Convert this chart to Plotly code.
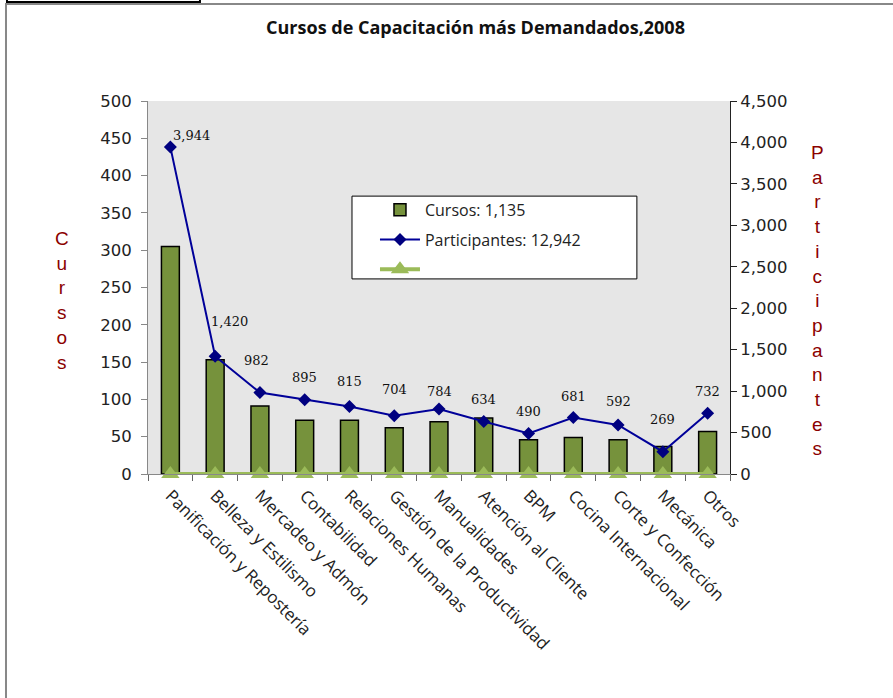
import plotly.graph_objects as go

categorias = ["Panificación y Repostería", "Belleza y Estilismo", "Mercadeo y Admón",
              "Contabilidad", "Relaciones Humanas", "Gestión de la Productividad",
              "Manualidades", "Atención al Cliente", "BPM", "Cocina Internacional",
              "Corte y Confección", "Mecánica", "Otros"]
cursos = [305, 153, 91, 72, 72, 62, 70, 75, 46, 49, 46, 37, 57]
participantes = [3944, 1420, 982, 895, 815, 704, 784, 634, 490, 681, 592, 269, 732]
base = [0] * len(categorias)

total_cursos = 1135
total_part = 12942

# label offsets in px (style only)
lbl_dy = [12, 35, 32, 22, 25, 26, 18, 22, 22, 21, 23, 32, 22]
lbl_dx = [21, 14, -3, 0, 0, 0, 0, 0, 0, 0, 0, 0, 0]

lbl_font = dict(family="DejaVu Serif, Liberation Serif, serif", size=13, color="#111")
tick_font = dict(family="DejaVu Sans, Verdana, sans-serif", size=16.5, color="#222")
cat_font = dict(family="Open Sans, Lato, sans-serif", size=17, color="#222")

fig = go.Figure()
fig.add_trace(go.Bar(x=categorias, y=cursos, name=f"Cursos: {total_cursos:,}",
                     marker=dict(color="#76923C", line=dict(color="#000", width=1.5)),
                     width=0.4, yaxis="y", legendgroup="a"))
fig.add_trace(go.Scatter(x=categorias, y=participantes, name=f"Participantes: {total_part:,}",
                         mode="lines+markers", line=dict(color="#000099", width=2),
                         marker=dict(symbol="diamond", size=10, color="#000080"),
                         yaxis="y2", legendgroup="b"))
fig.add_trace(go.Scatter(x=categorias, y=base, name=" ", mode="lines+markers",
                         line=dict(color="#9BBB59", width=4),
                         marker=dict(symbol="triangle-up", size=16, color="#9BBB59"),
                         yaxis="y2", cliponaxis=False, legendgroup="c"))

for c, v, dy, dx in zip(categorias, participantes, lbl_dy, lbl_dx):
    fig.add_annotation(x=c, y=v, yref="y2", text=f"{v:,}", showarrow=False,
                       yshift=dy, xshift=dx, font=lbl_font)

fig.update_layout(
    width=893, height=698,
    margin=dict(l=148, r=163, t=101, b=224),
    paper_bgcolor="white", plot_bgcolor="#e6e6e6",
    title=dict(text="<b>Cursos de Capacitación más Demandados,2008</b>",
               x=0.5325, xanchor="center", y=0.96, yanchor="middle",
               font=dict(family="Open Sans, Lato, sans-serif", size=18, color="#111")),
    showlegend=True,
    legend=dict(x=0.39, y=0.754, xanchor="left", yanchor="top",
                bgcolor="rgba(0,0,0,0)", borderwidth=0,
                font=dict(family="Open Sans, Lato, sans-serif", size=16, color="#222"),
                tracegroupgap=6, itemwidth=40, traceorder="grouped"),
    xaxis=dict(tickangle=45, tickfont=cat_font, showline=True, linecolor="#888",
               range=[-0.5, 12.5], ticklabelstandoff=4,
               ticks="outside", tickson="boundaries", ticklen=6, tickcolor="#666",
               showgrid=False),
    yaxis=dict(range=[0, 500], dtick=50, tickfont=tick_font, showgrid=False,
               showline=True, linecolor="#888", ticks="outside", ticklen=6,
               tickcolor="#888", zeroline=False, ticklabelstandoff=6),
    yaxis2=dict(range=[0, 4500], dtick=500, tickformat=",", overlaying="y", side="right",
                tickfont=tick_font, showgrid=False, showline=True, linecolor="#222",
                ticks="outside", ticklen=6, tickcolor="#222", zeroline=False),
)

# legend frame
fig.add_shape(type="rect", xref="paper", yref="paper", x0=0.3505, x1=0.840, y0=0.523, y1=0.745,
              line=dict(color="#000", width=1), fillcolor="white", layer="above")

# vertical axis titles
fig.add_annotation(xref="paper", yref="paper", x=-0.148, y=0.466, xanchor="center",
                   yanchor="middle", showarrow=False, text="<br>".join("Cursos"),
                   font=dict(family="Liberation Sans, Arial, sans-serif", size=19, color="#8B0000"))
fig.add_annotation(xref="paper", yref="paper", x=1.151, y=0.466, xanchor="center",
                   yanchor="middle", showarrow=False, text="<br>".join("Participantes"),
                   font=dict(family="Liberation Sans, Arial, sans-serif", size=19, color="#8B0000"))

# outer frame
fig.add_shape(type="rect", xref="paper", yref="paper", x0=-0.244, x1=1.8, y0=-1.0, y1=1.26,
              line=dict(color="#888", width=2), fillcolor="rgba(0,0,0,0)", layer="below")
fig.add_shape(type="rect", xref="paper", yref="paper", x0=-0.2423, x1=0.0893, y0=1.2654, y1=1.29,
              line=dict(color="#000", width=2), fillcolor="rgba(0,0,0,0)")

fig.write_html("out.html")
